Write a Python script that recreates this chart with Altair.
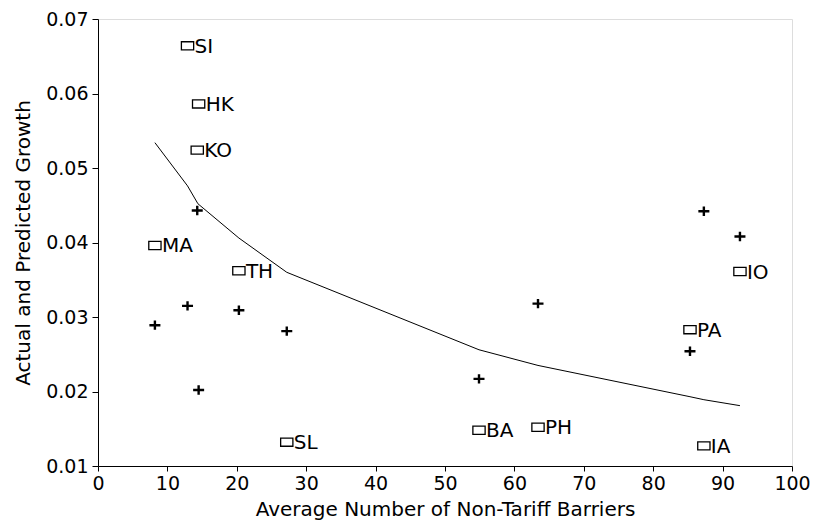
import altair as alt
import pandas as pd

countries = ["SI", "HK", "KO", "MA", "TH", "SL", "BA", "PH", "PA", "IO", "IA"]
ntb = [12.9, 14.5, 14.3, 8.2, 20.3, 27.2, 54.9, 63.4, 85.3, 92.5, 87.3]
actual = [0.0664, 0.0586, 0.0524, 0.0396, 0.0362, 0.0132, 0.0148, 0.0152, 0.0283, 0.0361, 0.0127]
predicted = [0.0315, 0.0202, 0.0443, 0.0289, 0.0309, 0.0281, 0.0217, 0.0318, 0.0254, 0.0408, 0.0442]

fit_x = [8.2, 12.9, 14.4, 20.3, 27.2, 54.9, 63.4, 85.3, 87.3, 92.5]
fit_y = [0.0534, 0.0476, 0.0452, 0.0406, 0.0360, 0.0256, 0.0235, 0.0193, 0.0189, 0.0181]

x_ticks = [0, 10, 20, 30, 40, 50, 60, 70, 80, 90, 100]
y_ticks = [0.01, 0.02, 0.03, 0.04, 0.05, 0.06, 0.07]

FONT = "DejaVu Sans"

pts = pd.DataFrame({"country": countries, "ntb": ntb, "actual": actual, "predicted": predicted})
fit = pd.DataFrame({"ntb": fit_x, "growth": fit_y})

xscale = alt.Scale(domain=[0, 100], nice=False, zero=False)
yscale = alt.Scale(domain=[0.01, 0.07], nice=False, zero=False)

xaxis = alt.Axis(
    title="Average Number of Non-Tariff Barriers", values=x_ticks, format="d",
    grid=False, domainColor="black", tickColor="black", tickSize=5, labelPadding=3,
    labelColor="black", titleColor="black", labelFont=FONT, titleFont=FONT,
    labelFontSize=19, titleFontSize=20, titleFontWeight="normal",
    titleBaseline="alphabetic", titleY=49, labelFlush=False,
)
yaxis = alt.Axis(
    title="Actual and Predicted Growth", values=y_ticks, format=".2f",
    grid=False, domainColor="black", tickColor="black", tickSize=6, labelPadding=4,
    labelColor="black", titleColor="black", labelFont=FONT, titleFont=FONT,
    labelFontSize=19, titleFontSize=20, titleFontWeight="normal",
    titleBaseline="alphabetic", titleX=-69, labelFlush=False,
)

rect_path = "M-1,-0.667L1,-0.667L1,0.667L-1,0.667Z"
plus_path = "M-1,0L1,0M0,-0.85L0,0.85"

line = alt.Chart(fit).mark_line(color="black", strokeWidth=1).encode(
    x=alt.X("ntb:Q", scale=xscale, axis=xaxis),
    y=alt.Y("growth:Q", scale=yscale, axis=yaxis),
)

squares = alt.Chart(pts).mark_point(
    shape=rect_path, size=150, filled=False, color="black", strokeWidth=1.3, opacity=1
).encode(
    x=alt.X("ntb:Q", scale=xscale),
    y=alt.Y("actual:Q", scale=yscale),
)

labels = alt.Chart(pts).mark_text(
    align="left", baseline="middle", dx=7, dy=1, font=FONT, fontSize=20, color="black"
).encode(
    x=alt.X("ntb:Q", scale=xscale),
    y=alt.Y("actual:Q", scale=yscale),
    text="country:N",
)

pluses = alt.Chart(pts).mark_point(
    shape=plus_path, size=121, filled=False, color="black", strokeWidth=2.4, opacity=1
).encode(
    x=alt.X("ntb:Q", scale=xscale),
    y=alt.Y("predicted:Q", scale=yscale),
)

chart = alt.layer(line, squares, labels, pluses).properties(
    width=694, height=447,
    autosize=alt.AutoSizeParams(type="none"),
    padding={"left": 90, "top": 11, "right": 19, "bottom": 55},
).configure_view(stroke="black", strokeWidth=1).configure(background="white")

chart.save("out.html", embed_options={"renderer": "svg", "actions": False})
